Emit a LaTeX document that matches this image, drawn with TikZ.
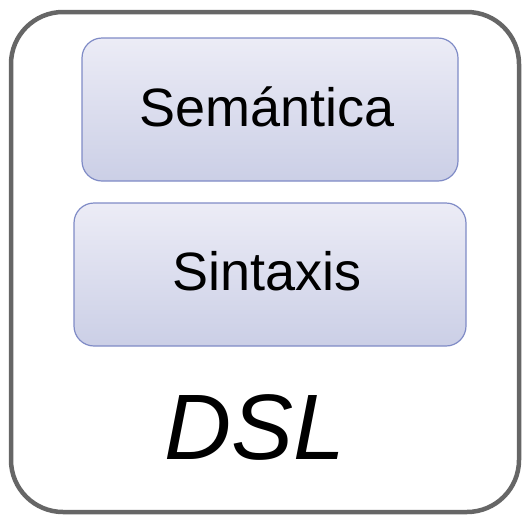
\documentclass[tikz,border=0pt]{standalone}
\usepackage{fontspec}
\setmainfont{Liberation Sans}
\usetikzlibrary{positioning}
\definecolor{outerc}{HTML}{666666}
\definecolor{boxtop}{HTML}{ECECF6}
\definecolor{boxbot}{HTML}{CBCFE6}
\definecolor{boxline}{HTML}{7F8BC6}
\tikzset{
  layerbox/.style={draw=boxline, line width=1.2pt, rounded corners=20pt, top color=boxtop, bottom color=boxbot, inner sep=0pt},
  outerbox/.style={draw=outerc, line width=4.5pt, rounded corners=52pt},
}
\begin{document}
\begin{tikzpicture}[x=1pt,y=-1pt]
\useasboundingbox (0,0) rectangle (525,520);
\draw[outerbox] (11,12) rectangle (519,512);
\node[layerbox, minimum width=376pt, minimum height=143pt] (sem) at (270,109.5) {};
\node[font=\fontsize{54}{60}\selectfont] (semt) at ([xshift=-3pt,yshift=3pt]sem.center) {Semántica};
\node[layerbox, minimum width=392pt, minimum height=143pt] (sin) at (270,274.5) {};
\node[font=\fontsize{54}{60}\selectfont] (sint) at ([xshift=-3pt,yshift=3pt]sin.center) {Sintaxis};
\node[font=\fontsize{93}{100}\selectfont\itshape, anchor=base] (dsl) at (255,459) {DSL};
\end{tikzpicture}
\end{document}
